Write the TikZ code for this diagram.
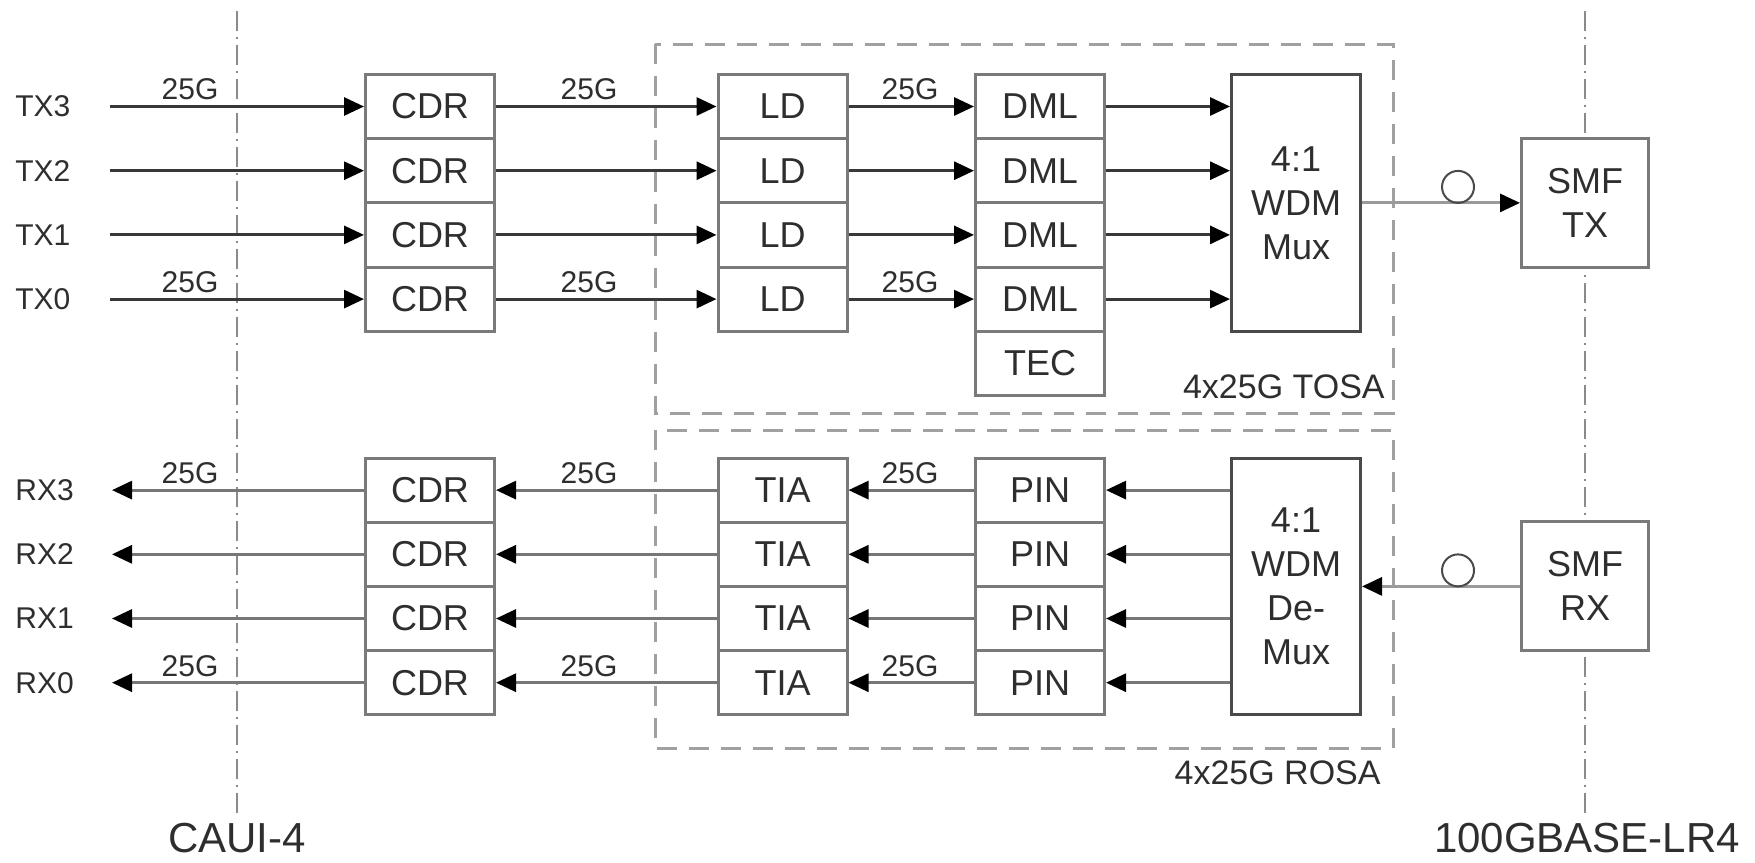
\documentclass[tikz,border=0pt]{standalone}
\usepackage{fontspec}
\setmainfont{Liberation Sans}
\usetikzlibrary{arrows.meta}
\definecolor{tc}{HTML}{2E2E2E}
\definecolor{bc}{HTML}{7A7A7A}
\definecolor{mc}{HTML}{4A4A4A}
\definecolor{txc}{HTML}{383838}
\definecolor{rxc}{HTML}{777777}
\definecolor{fc}{HTML}{9A9A9A}
\definecolor{dc}{HTML}{A0A0A0}
\definecolor{vc}{HTML}{8A8A8A}
\tikzset{
 blk/.style={draw=bc, line width=1.5pt, fill=white, minimum width=64.5pt, minimum height=32.1pt, inner sep=0pt, text=tc, font=\fontsize{18}{22}\selectfont},
 bigblk/.style={blk, draw=mc, minimum height=128.4pt, align=center},
 smf/.style={blk, minimum width=63.5pt, minimum height=64.5pt, align=center},
 sig/.style={text=tc, font=\fontsize{15}{18}\selectfont, inner sep=0pt},
 rate/.style={sig, anchor=south},
 capt/.style={text=tc, font=\fontsize{17}{20}\selectfont, inner sep=0pt, anchor=base east},
 iface/.style={text=tc, font=\fontsize{21}{25}\selectfont, inner sep=0pt, anchor=base},
 tip/.style={-{Triangle[length=10pt,width=9pt,color=black]}},
 txl/.style={draw=txc, line width=1.5pt, tip},
 rxl/.style={draw=rxc, line width=1.5pt, tip},
 fib/.style={draw=fc, line width=1.5pt, tip},
 modbox/.style={draw=dc, line width=1.5pt, dash pattern=on 10pt off 6pt},
 bound/.style={draw=vc, line width=1.3pt, dash pattern=on 10pt off 3pt on 1pt off 3pt},
 pol/.style={circle, draw=mc, line width=1pt, minimum size=16pt, inner sep=0pt},
}
\begin{document}
\begin{tikzpicture}[x=0.5pt,y=-0.5pt]
\useasboundingbox (0,0) rectangle (1755,862);
% interface boundaries
\coordinate (b1t) at (237,11); \coordinate (b1b) at (237,815);
\coordinate (b2t) at (1585,11); \coordinate (b2b) at (1585,815);
\draw[bound] (b1t) -- (b1b);
\draw[bound] (b2t) -- (b2b);
% module outlines
\draw[modbox] (655,44) rectangle (1393,413);
\draw[modbox] (655,430) rectangle (1393,748);
% TX blocks
\foreach \i/\y in {3/106.5,2/170.7,1/234.9,0/299.1}{
  \node[blk] (cdrT\i) at (430,\y) {CDR};
  \node[blk] (ld\i) at (782.5,\y) {LD};
  \node[blk] (dml\i) at (1040,\y) {DML};
  \node[sig, anchor=west] (tx\i) at (15,\y) {TX\i};
  \coordinate (tin\i) at (110,\y);
}
\node[blk] (tec) at (1040,363.3) {TEC};
\node[bigblk] (mux) at (1296,202.9) {4:1\\WDM\\Mux};
\node[smf] (smft) at (1585,202.9) {SMF\\TX};
% RX blocks
\foreach \i/\y in {3/490.1,2/554.3,1/618.5,0/682.7}{
  \node[blk] (cdrR\i) at (430,\y) {CDR};
  \node[blk] (tia\i) at (782.5,\y) {TIA};
  \node[blk] (pin\i) at (1040,\y) {PIN};
  \node[sig, anchor=west] (rx\i) at (15,\y) {RX\i};
  \coordinate (rout\i) at (112,\y);
}
\node[bigblk] (demux) at (1296,586.4) {4:1\\WDM\\De-\\Mux};
\node[smf] (smfr) at (1585,586.4) {SMF\\RX};
% TX connectors
\foreach \i in {3,2,1,0}{
  \draw[txl] (tin\i) -- (cdrT\i);
  \draw[txl] (cdrT\i) -- (ld\i);
  \draw[txl] (ld\i) -- (dml\i);
  \draw[txl] (dml\i) -- (dml\i -| mux.west);
}
% RX connectors
\foreach \i in {3,2,1,0}{
  \draw[rxl] (cdrR\i) -- (rout\i);
  \draw[rxl] (tia\i) -- (cdrR\i);
  \draw[rxl] (pin\i) -- (tia\i);
  \draw[rxl] (pin\i -| demux.west) -- (pin\i);
}
% fibres
\draw[fib] (mux) -- (smft);
\draw[fib] (smfr) -- (demux);
\node[pol] (polt) at (1458,186.9) {};
\node[pol] (polr) at (1458,570.4) {};
% rate labels
\foreach \y [count=\k] in {100.5,293.1,484.1,676.7}{
  \node[rate] (ra\k) at (190,\y) {25G};
  \node[rate] (rb\k) at (589,\y) {25G};
  \node[rate] (rc\k) at (910,\y) {25G};
}
% captions
\node[capt] (tosa) at (1385,398) {4x25G TOSA};
\node[capt] (rosa) at (1381,784) {4x25G ROSA};
\node[iface] (caui) at (237,852) {CAUI-4};
\node[iface] (lr4) at (1587,852) {100GBASE-LR4};
\end{tikzpicture}
\end{document}
